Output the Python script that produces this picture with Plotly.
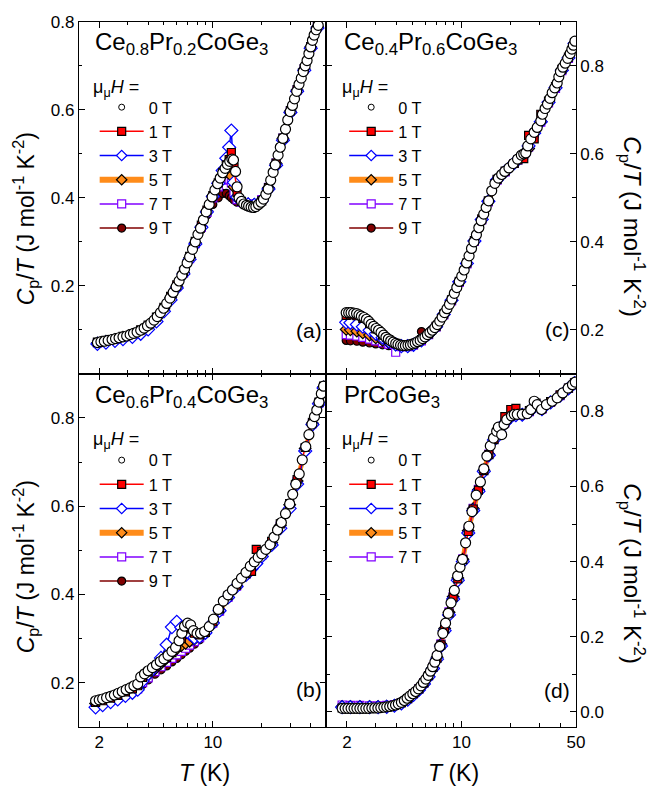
import math
import plotly.graph_objects as go

W, H = 654, 794
FONT = "Liberation Sans, Arial, sans-serif"

# ---------------- (a) Ce0.8Pr0.2CoGe3 ----------------
a_T0 = [1.95, 2.05, 2.15, 2.27, 2.4, 2.52, 2.65, 2.8, 2.95, 3.1, 3.25, 3.42, 3.6, 3.78, 3.96,
        4.15, 4.35, 4.55, 4.76, 4.98, 5.2, 5.45, 5.7, 5.95, 6.2, 6.45, 6.7, 6.95, 7.2, 7.5,
        7.8, 8.1, 8.4, 8.75, 9.1, 9.5, 9.9, 10.3, 10.7, 11.1, 11.5, 11.9, 12.3, 12.7, 13.1,
        13.4, 13.8, 14.1, 14.5, 15.0, 15.5, 16.1, 16.6, 17.2, 17.8, 18.4, 19.1, 19.8, 20.5, 21.2,
        21.9, 22.7, 23.5, 24.2, 25.2, 26.0, 27.0, 28.0, 28.9, 29.9, 30.9, 31.8, 32.8, 33.9, 35.0,
        36.0, 37.0, 38.0, 39.0, 40.0, 41.0, 42.0, 43.2, 44.5]
a_C0 = [0.071, 0.073, 0.074, 0.076, 0.078, 0.080, 0.082, 0.084, 0.086, 0.089, 0.092, 0.095, 0.099, 0.104, 0.109,
        0.115, 0.122, 0.130, 0.139, 0.149, 0.160, 0.172, 0.185, 0.198, 0.211, 0.224, 0.238, 0.252, 0.266, 0.283,
        0.300, 0.317, 0.331, 0.350, 0.368, 0.385, 0.402, 0.418, 0.432, 0.445, 0.457, 0.467, 0.476, 0.483, 0.488,
        0.486, 0.460, 0.425, 0.400, 0.392, 0.386, 0.383, 0.381, 0.379, 0.378, 0.380, 0.385, 0.390, 0.397, 0.408,
        0.420, 0.440, 0.458, 0.475, 0.497, 0.515, 0.535, 0.556, 0.577, 0.596, 0.610, 0.625, 0.642, 0.658, 0.672,
        0.687, 0.700, 0.712, 0.728, 0.743, 0.758, 0.770, 0.782, 0.792]
a_T = [1.95, 2.2, 2.5, 2.8, 3.2, 3.6, 4.0, 4.5, 5.0, 5.5, 6.0, 6.6, 7.2, 7.8, 8.5, 9.2, 10.0, 10.8,
       11.5, 12.1, 12.6, 13.0, 13.5, 14.1, 15.0, 16.5, 18.0, 20.0, 22.0, 24.5, 27.0, 30.0, 33.0, 36.5, 40.0, 44.0]
a_C1 = [0.072, 0.076, 0.080, 0.085, 0.091, 0.100, 0.111, 0.129, 0.151, 0.176, 0.202, 0.233, 0.267, 0.301, 0.338,
        0.372, 0.405, 0.434, 0.458, 0.475, 0.487, 0.503, 0.470, 0.412, 0.392, 0.383, 0.380, 0.393, 0.423, 0.479,
        0.536, 0.598, 0.646, 0.694, 0.744, 0.790]
a_C3 = [0.068, 0.071, 0.075, 0.079, 0.084, 0.091, 0.101, 0.119, 0.142, 0.168, 0.195, 0.227, 0.260, 0.295, 0.333,
        0.368, 0.403, 0.433, 0.462, 0.490, 0.515, 0.553, 0.435, 0.402, 0.392, 0.385, 0.384, 0.393, 0.420, 0.474,
        0.531, 0.594, 0.642, 0.690, 0.740, 0.786]
a_C5 = [0.070, 0.074, 0.078, 0.083, 0.089, 0.097, 0.108, 0.126, 0.148, 0.173, 0.199, 0.230, 0.264, 0.298, 0.335,
        0.370, 0.404, 0.433, 0.452, 0.460, 0.463, 0.450, 0.425, 0.400, 0.392, 0.386, 0.385, 0.395, 0.423, 0.478,
        0.535, 0.597, 0.645, 0.693, 0.743, 0.789]
a_C7 = [0.070, 0.074, 0.078, 0.083, 0.089, 0.097, 0.108, 0.125, 0.147, 0.172, 0.198, 0.229, 0.262, 0.296, 0.333,
        0.367, 0.400, 0.425, 0.440, 0.445, 0.442, 0.434, 0.412, 0.396, 0.390, 0.386, 0.386, 0.396, 0.424, 0.479,
        0.536, 0.597, 0.645, 0.693, 0.743, 0.789]
a_C9 = [0.070, 0.073, 0.077, 0.082, 0.088, 0.096, 0.107, 0.124, 0.146, 0.170, 0.196, 0.227, 0.260, 0.293, 0.328,
        0.361, 0.385, 0.400, 0.410, 0.410, 0.405, 0.400, 0.395, 0.390, 0.388, 0.386, 0.386, 0.396, 0.424, 0.479,
        0.536, 0.597, 0.645, 0.693, 0.743, 0.789]

# ---------------- (b) Ce0.6Pr0.4CoGe3 ----------------
b_T0 = [1.9, 2.0, 2.1, 2.22, 2.35, 2.48, 2.62, 2.77, 2.93, 3.1, 3.27, 3.45, 3.6, 3.8, 4.0,
        4.25, 4.5, 4.75, 5.0, 5.3, 5.6, 5.9, 6.2, 6.45, 6.7, 7.0, 7.3, 7.6, 8.0, 8.4,
        8.9, 9.5, 10.1, 10.8, 11.6, 12.4, 13.2, 14.1, 15.0, 16.0, 17.0, 18.0, 19.0, 20.0, 21.2,
        22.5, 23.8, 25.0, 26.4, 28.0, 29.7, 31.0, 32.4, 34.0, 35.5, 37.3, 39.0, 40.7, 42.2, 43.6,
        45.0, 46.5, 48.0]
b_C0 = [0.159, 0.161, 0.163, 0.166, 0.169, 0.172, 0.176, 0.180, 0.184, 0.188, 0.193, 0.197, 0.213, 0.220, 0.227,
        0.234, 0.241, 0.248, 0.254, 0.262, 0.271, 0.280, 0.295, 0.312, 0.328, 0.335, 0.331, 0.318, 0.312, 0.312,
        0.316, 0.327, 0.344, 0.366, 0.385, 0.399, 0.410, 0.425, 0.437, 0.450, 0.464, 0.474, 0.484, 0.492, 0.502,
        0.513, 0.530, 0.546, 0.563, 0.583, 0.605, 0.627, 0.650, 0.673, 0.705, 0.735, 0.762, 0.786, 0.803, 0.818,
        0.836, 0.855, 0.872]
b_T = [1.9, 2.1, 2.35, 2.6, 2.9, 3.2, 3.45, 3.7, 4.0, 4.4, 4.8, 5.2, 5.6, 6.0, 6.4, 6.8, 7.2, 7.7,
       8.3, 9.0, 10.0, 11.0, 12.4, 14.0, 16.0, 17.3, 18.5, 20.0, 23.0, 26.0, 29.7, 33.0, 37.0, 41.0, 45.0, 48.0]
b_C1 = [0.155, 0.159, 0.165, 0.171, 0.179, 0.186, 0.193, 0.212, 0.224, 0.236, 0.247, 0.257, 0.268, 0.280, 0.300,
        0.322, 0.325, 0.312, 0.308, 0.314, 0.338, 0.367, 0.397, 0.421, 0.447, 0.452, 0.502, 0.497, 0.520, 0.560,
        0.606, 0.660, 0.733, 0.790, 0.836, 0.872]
b_C3 = [0.144, 0.149, 0.156, 0.162, 0.170, 0.177, 0.184, 0.204, 0.220, 0.236, 0.256, 0.286, 0.326, 0.338, 0.325,
        0.316, 0.310, 0.302, 0.304, 0.313, 0.335, 0.363, 0.393, 0.418, 0.444, 0.458, 0.470, 0.486, 0.512, 0.550,
        0.595, 0.650, 0.725, 0.785, 0.832, 0.868]
b_C5 = [0.153, 0.157, 0.162, 0.168, 0.175, 0.182, 0.188, 0.205, 0.217, 0.231, 0.244, 0.256, 0.267, 0.277, 0.284,
        0.289, 0.294, 0.299, 0.306, 0.317, 0.337, 0.364, 0.394, 0.420, 0.447, 0.462, 0.476, 0.490, 0.517, 0.556,
        0.603, 0.657, 0.731, 0.788, 0.834, 0.870]
b_C7 = [0.151, 0.155, 0.160, 0.166, 0.173, 0.180, 0.186, 0.200, 0.211, 0.225, 0.236, 0.246, 0.255, 0.263, 0.271,
        0.278, 0.285, 0.293, 0.302, 0.314, 0.335, 0.362, 0.393, 0.419, 0.446, 0.461, 0.475, 0.489, 0.516, 0.555,
        0.602, 0.656, 0.730, 0.787, 0.834, 0.870]
b_C9 = [0.148, 0.152, 0.157, 0.163, 0.170, 0.177, 0.183, 0.196, 0.206, 0.219, 0.229, 0.238, 0.247, 0.255, 0.263,
        0.271, 0.278, 0.287, 0.297, 0.310, 0.332, 0.360, 0.391, 0.418, 0.445, 0.460, 0.474, 0.488, 0.515, 0.554,
        0.601, 0.655, 0.729, 0.786, 0.833, 0.869]

# ---------------- (c) Ce0.4Pr0.6CoGe3 ----------------
c_T0 = [1.98, 2.05, 2.12, 2.2, 2.29, 2.37, 2.45, 2.54, 2.63, 2.72, 2.81, 2.91, 3.01, 3.12, 3.23,
        3.35, 3.46, 3.58, 3.70, 3.83, 3.97, 4.1, 4.25, 4.4, 4.55, 4.72, 4.88, 5.05, 5.22, 5.4,
        5.6, 5.8, 5.99, 6.2, 6.42, 6.65, 6.88, 7.12, 7.37, 7.62, 7.89, 8.16, 8.45, 8.75, 9.05,
        9.37, 9.7, 10.04, 10.39, 10.75, 11.13, 11.52, 11.92, 12.34, 12.77, 13.2, 13.68, 14.15, 14.65, 15.3,
        16.0, 16.8, 17.6, 18.4, 19.5, 20.7, 22.0, 23.2, 24.0, 24.7, 25.4, 26.5, 27.8, 29.0, 30.5,
        31.2, 32.4, 33.5, 34.7, 35.8, 37.1, 38.4, 39.3, 40.2, 41.6, 43.0, 44.5, 46.1, 47.2, 48.2, 49.3]
c_C0 = [0.239, 0.239, 0.239, 0.238, 0.237, 0.234, 0.231, 0.228, 0.224, 0.219, 0.213, 0.208, 0.203, 0.199, 0.194,
        0.188, 0.183, 0.179, 0.175, 0.172, 0.169, 0.167, 0.165, 0.164, 0.164, 0.165, 0.166, 0.168, 0.170, 0.173,
        0.176, 0.180, 0.184, 0.189, 0.194, 0.199, 0.205, 0.212, 0.220, 0.229, 0.239, 0.248, 0.258, 0.270, 0.283,
        0.296, 0.310, 0.322, 0.336, 0.352, 0.368, 0.385, 0.400, 0.416, 0.432, 0.448, 0.463, 0.478, 0.493, 0.516,
        0.533, 0.545, 0.553, 0.560, 0.568, 0.578, 0.588, 0.597, 0.600, 0.602, 0.618, 0.634, 0.649, 0.660, 0.675,
        0.690, 0.703, 0.713, 0.726, 0.739, 0.750, 0.761, 0.775, 0.787, 0.797, 0.806, 0.817, 0.828, 0.838, 0.847, 0.856]
c_T = [1.98, 2.1, 2.3, 2.5, 2.75, 3.0, 3.3, 3.6, 3.97, 4.3, 4.7, 5.1, 5.7, 6.3, 7.0, 7.8, 8.7, 9.7,
       10.8, 12.0, 13.3, 14.6, 16.5, 18.5, 21.0, 22.1, 24.0, 25.7, 27.8, 30.5, 34.0, 37.5, 41.0, 45.0, 49.0]
c_C1 = [0.233, 0.234, 0.232, 0.226, 0.214, 0.202, 0.188, 0.178, 0.169, 0.165, 0.165, 0.168, 0.178, 0.191, 0.208,
        0.236, 0.268, 0.310, 0.352, 0.403, 0.452, 0.493, 0.542, 0.561, 0.578, 0.586, 0.589, 0.642, 0.634, 0.690,
        0.720, 0.753, 0.792, 0.820, 0.853]
c_C3 = [0.217, 0.216, 0.212, 0.207, 0.199, 0.191, 0.182, 0.174, 0.167, 0.163, 0.163, 0.166, 0.176, 0.190, 0.207,
        0.235, 0.267, 0.309, 0.351, 0.402, 0.451, 0.492, 0.541, 0.560, 0.579, 0.587, 0.598, 0.618, 0.647, 0.673,
        0.717, 0.750, 0.790, 0.818, 0.851]
c_C5 = [0.201, 0.200, 0.197, 0.193, 0.188, 0.182, 0.176, 0.171, 0.166, 0.163, 0.163, 0.166, 0.176, 0.190, 0.207,
        0.235, 0.267, 0.309, 0.351, 0.402, 0.451, 0.492, 0.541, 0.560, 0.579, 0.587, 0.600, 0.612, 0.647, 0.673,
        0.717, 0.750, 0.790, 0.818, 0.851]
c_C7 = [0.189, 0.188, 0.186, 0.183, 0.179, 0.175, 0.171, 0.167, 0.149, 0.162, 0.162, 0.165, 0.175, 0.189, 0.206,
        0.234, 0.266, 0.308, 0.350, 0.401, 0.450, 0.491, 0.540, 0.559, 0.578, 0.586, 0.598, 0.615, 0.646, 0.672,
        0.716, 0.749, 0.789, 0.817, 0.850]
c_C9 = [0.176, 0.175, 0.174, 0.172, 0.170, 0.168, 0.166, 0.164, 0.162, 0.161, 0.162, 0.165, 0.196, 0.190, 0.206,
        0.234, 0.266, 0.308, 0.350, 0.401, 0.450, 0.491, 0.540, 0.559, 0.578, 0.586, 0.598, 0.615, 0.646, 0.672,
        0.716, 0.749, 0.789, 0.817, 0.850]

# ---------------- (d) PrCoGe3 ----------------
d_T0 = [1.87, 1.95, 2.03, 2.12, 2.21, 2.3, 2.4, 2.5, 2.61, 2.72, 2.84, 2.96, 3.09, 3.22, 3.36,
        3.5, 3.65, 3.8, 3.96, 4.12, 4.3, 4.48, 4.66, 4.85, 5.05, 5.25, 5.46, 5.66, 5.86, 6.06,
        6.27, 6.47, 6.67, 6.88, 7.1, 7.37, 7.7, 8.0, 8.3, 8.64, 9.05, 9.48, 9.8, 10.15, 10.6,
        11.1, 11.6, 12.3, 13.05, 13.7, 14.3, 15.0, 15.7, 16.4, 16.8, 17.6, 18.2, 18.9, 20.2, 21.0,
        21.9, 23.5, 25.2, 26.5, 27.8, 29.0, 30.8, 33.0, 35.8, 38.4, 41.5, 44.8, 47.6, 49.5]
d_C0 = [0.009, 0.009, 0.009, 0.009, 0.009, 0.009, 0.009, 0.009, 0.009, 0.009, 0.010, 0.010, 0.010, 0.011, 0.012,
        0.013, 0.014, 0.016, 0.018, 0.021, 0.025, 0.030, 0.036, 0.042, 0.048, 0.054, 0.061, 0.069, 0.078, 0.087,
        0.097, 0.108, 0.120, 0.132, 0.150, 0.174, 0.209, 0.236, 0.262, 0.290, 0.323, 0.362, 0.385, 0.406, 0.450,
        0.494, 0.533, 0.577, 0.612, 0.647, 0.681, 0.708, 0.729, 0.747, 0.758, 0.738, 0.765, 0.778, 0.788, 0.792,
        0.792, 0.792, 0.794, 0.805, 0.827, 0.818, 0.805, 0.818, 0.827, 0.836, 0.849, 0.862, 0.871, 0.878]
d_T = [1.87, 2.1, 2.4, 2.75, 3.1, 3.5, 3.9, 4.3, 4.7, 5.1, 5.5, 5.9, 6.3, 6.7, 7.1, 7.5, 7.9, 8.4, 8.9, 9.5,
       10.2, 11.0, 11.8, 12.7, 13.7, 14.7, 15.8, 17.0, 18.4, 20.0, 21.5, 23.5, 26.0, 28.5, 31.0, 35.0, 40.0, 45.0, 49.0]
d_C1 = [0.010, 0.010, 0.010, 0.010, 0.011, 0.013, 0.017, 0.024, 0.035, 0.048, 0.061, 0.077, 0.096, 0.118, 0.143,
        0.178, 0.220, 0.263, 0.305, 0.354, 0.405, 0.480, 0.540, 0.590, 0.642, 0.685, 0.725, 0.748, 0.786, 0.805,
        0.808, 0.795, 0.802, 0.822, 0.808, 0.826, 0.844, 0.862, 0.876]
d_C3 = [0.012, 0.012, 0.012, 0.012, 0.012, 0.013, 0.016, 0.022, 0.032, 0.045, 0.058, 0.074, 0.093, 0.115, 0.140,
        0.175, 0.216, 0.258, 0.300, 0.350, 0.400, 0.476, 0.536, 0.587, 0.640, 0.683, 0.724, 0.746, 0.769, 0.785,
        0.790, 0.791, 0.799, 0.820, 0.806, 0.824, 0.842, 0.861, 0.875]
d_C5 = [0.014, 0.014, 0.014, 0.014, 0.014, 0.015, 0.017, 0.023, 0.034, 0.047, 0.060, 0.076, 0.095, 0.117, 0.145,
        0.180, 0.222, 0.265, 0.306, 0.356, 0.406, 0.482, 0.541, 0.591, 0.643, 0.686, 0.726, 0.747, 0.769, 0.786,
        0.790, 0.791, 0.799, 0.820, 0.806, 0.824, 0.842, 0.861, 0.875]
d_C7 = [0.018, 0.017, 0.017, 0.016, 0.016, 0.017, 0.019, 0.024, 0.035, 0.048, 0.061, 0.077, 0.096, 0.118, 0.146,
        0.181, 0.223, 0.266, 0.307, 0.357, 0.407, 0.483, 0.542, 0.592, 0.644, 0.686, 0.726, 0.747, 0.769, 0.786,
        0.790, 0.791, 0.799, 0.820, 0.806, 0.824, 0.842, 0.861, 0.875]

FIELDS = ["0 T", "1 T", "3 T", "5 T", "7 T", "9 T"]
COMPOUNDS = ["Ce<sub>0.8</sub>Pr<sub>0.2</sub>CoGe<sub>3</sub>",
             "Ce<sub>0.6</sub>Pr<sub>0.4</sub>CoGe<sub>3</sub>",
             "Ce<sub>0.4</sub>Pr<sub>0.6</sub>CoGe<sub>3</sub>",
             "PrCoGe<sub>3</sub>"]
PANEL_TAGS = ["(a)", "(b)", "(c)", "(d)"]
X_TICKS = [2, 10, 50]
X_MINOR = [3, 4, 5, 6, 7, 8, 9, 20, 30, 40]

# field style: line colour, line width, marker symbol, fill, edge colour, size
STYLE = {
    "0 T": dict(lc=None, lw=0, sym="circle", fill="white", edge="black", size=10),
    "1 T": dict(lc="#FF0000", lw=1.5, sym="square", fill="#FF0000", edge="black", size=8),
    "3 T": dict(lc="#0000FF", lw=1.5, sym="diamond", fill="white", edge="#0000FF", size=10),
    "5 T": dict(lc="#FF8C1A", lw=5, sym="diamond", fill="#FF8C1A", edge="black", size=9),
    "7 T": dict(lc="#8000FF", lw=1.5, sym="square", fill="white", edge="#8000FF", size=8),
    "9 T": dict(lc="#800000", lw=1.5, sym="circle", fill="#800000", edge="black", size=8),
}


def px(x):
    return x / W


def py(y):
    return 1 - y / H


panels = [
    # axis suffix, zero-field data, field grid, field series
    ("", a_T0, a_C0, a_T, {"1 T": a_C1, "3 T": a_C3, "5 T": a_C5, "7 T": a_C7, "9 T": a_C9}),
    ("2", b_T0, b_C0, b_T, {"1 T": b_C1, "3 T": b_C3, "5 T": b_C5, "7 T": b_C7, "9 T": b_C9}),
    ("3", c_T0, c_C0, c_T, {"1 T": c_C1, "3 T": c_C3, "5 T": c_C5, "7 T": c_C7, "9 T": c_C9}),
    ("4", d_T0, d_C0, d_T, {"1 T": d_C1, "3 T": d_C3, "5 T": d_C5, "7 T": d_C7}),
]

fig = go.Figure()

for idx, (sfx, T0, C0, TF, series) in enumerate(panels):
    xa, ya = "x" + sfx, "y" + sfx
    leg = "legend" + sfx
    # in-field curves underneath, zero field on top
    for name in ["9 T", "7 T", "5 T", "3 T", "1 T"]:
        if name not in series:
            continue
        s = STYLE[name]
        fig.add_trace(go.Scatter(
            x=TF, y=series[name], xaxis=xa, yaxis=ya, mode="lines+markers", showlegend=False,
            line=dict(color=s["lc"], width=s["lw"]),
            marker=dict(symbol=s["sym"], size=s["size"], color=s["fill"],
                        line=dict(color=s["edge"], width=1.2))))
    s = STYLE["0 T"]
    fig.add_trace(go.Scatter(
        x=T0, y=C0, xaxis=xa, yaxis=ya, mode="markers", showlegend=False,
        marker=dict(symbol="circle", size=s["size"], color="white", line=dict(color="black", width=1.2))))
    # legend entries
    for rank, name in enumerate(FIELDS):
        if name != "0 T" and name not in series:
            continue
        s = STYLE[name]
        if name == "0 T":
            fig.add_trace(go.Scatter(
                x=[None], y=[None], xaxis=xa, yaxis=ya, mode="markers", name=name, legend=leg,
                legendrank=rank + 1,
                marker=dict(symbol="circle", size=6, color="white", line=dict(color="black", width=1))))
        else:
            fig.add_trace(go.Scatter(
                x=[None], y=[None], xaxis=xa, yaxis=ya, mode="lines+markers", name=name, legend=leg,
                legendrank=rank + 1,
                line=dict(color=s["lc"], width=6 if name == "5 T" else 1.5),
                marker=dict(symbol=s["sym"], size=8, color=s["fill"],
                            line=dict(color=s["edge"], width=1.2))))

# ---------------- axes ----------------
XL = [px(80), px(331)]
XR = [px(331), px(584)]
YT = [py(369), py(13)]
YB = [py(726), py(369)]

axis_common = dict(showline=True, linecolor="black", linewidth=1, mirror="allticks",
                   ticks="inside", ticklen=6, tickwidth=1, tickcolor="black",
                   showgrid=False, zeroline=False,
                   tickfont=dict(family=FONT, size=17, color="black"))

xcommon = dict(axis_common, type="log", range=[math.log10(1.5), math.log10(50)],
               tickmode="array", tickvals=X_TICKS,
               minor=dict(tickmode="array", tickvals=X_MINOR, ticks="inside", ticklen=3.5,
                          tickwidth=1, tickcolor="black", showgrid=False))

layout_axes = {
    "xaxis": dict(xcommon, domain=XL, anchor="y", showticklabels=False),
    "xaxis2": dict(xcommon, domain=XL, anchor="y2", ticktext=["2", "10", ""]),
    "xaxis3": dict(xcommon, domain=XR, anchor="y3", showticklabels=False),
    "xaxis4": dict(xcommon, domain=XR, anchor="y4", ticktext=["2", "10", "50"]),
}

ycommon = dict(axis_common, tickmode="array")
layout_axes["yaxis"] = dict(ycommon, domain=YT, anchor="x", side="left", range=[0.0, 0.8],
                            tickvals=[0.2, 0.4, 0.6, 0.8], ticktext=["0.2", "0.4", "0.6", "0.8"],
                            minor=dict(tickmode="array", tickvals=[0.1, 0.3, 0.5, 0.7], ticks="inside",
                                       ticklen=3.5, tickwidth=1, tickcolor="black"))
layout_axes["yaxis2"] = dict(ycommon, domain=YB, anchor="x2", side="left", range=[0.1, 0.9],
                             tickvals=[0.2, 0.4, 0.6, 0.8], ticktext=["0.2", "0.4", "0.6", "0.8"],
                             minor=dict(tickmode="array", tickvals=[0.3, 0.5, 0.7], ticks="inside",
                                        ticklen=3.5, tickwidth=1, tickcolor="black"))
layout_axes["yaxis3"] = dict(ycommon, domain=YT, anchor="x3", side="right", range=[0.1, 0.9],
                             tickvals=[0.2, 0.4, 0.6, 0.8], ticktext=["0.2", "0.4", "0.6", "0.8"],
                             minor=dict(tickmode="array", tickvals=[0.3, 0.5, 0.7], ticks="inside",
                                        ticklen=3.5, tickwidth=1, tickcolor="black"))
layout_axes["yaxis4"] = dict(ycommon, domain=YB, anchor="x4", side="right", range=[-0.04, 0.9],
                             tickvals=[0.0, 0.2, 0.4, 0.6, 0.8],
                             ticktext=["0.0", "0.2", "0.4", "0.6", "0.8"],
                             minor=dict(tickmode="array", tickvals=[0.1, 0.3, 0.5, 0.7], ticks="inside",
                                        ticklen=3.5, tickwidth=1, tickcolor="black"))

# ---------------- legends ----------------
def legend_at(x, y):
    return dict(x=px(x), y=py(y), xanchor="left", yanchor="top", bgcolor="rgba(0,0,0,0)",
                borderwidth=0, itemwidth=44, tracegroupgap=0, traceorder="normal",
                font=dict(family=FONT, size=16.3, color="black"),
                itemclick=False, itemdoubleclick=False)


legends = {
    "legend": legend_at(96, 82),
    "legend2": legend_at(96, 439),
    "legend3": legend_at(349, 82),
    "legend4": legend_at(349, 439),
}

# ---------------- text ----------------
ann = []
YTITLE = "<i>C</i><sub>p</sub>/<i>T</i> (J mol<sup>-1</sup> K<sup>-2</sup>)"
for (x, y, ang, fs) in [(25, 212, -90, 23), (25, 564, -90, 23), (641, 220, 90, 24), (641, 571, 90, 24)]:
    ann.append(dict(text=YTITLE, x=px(x), y=py(y), xref="paper", yref="paper", showarrow=False,
                    textangle=ang, xanchor="center", yanchor="middle",
                    font=dict(family=FONT, size=fs, color="black")))
for x in (207, 460):
    ann.append(dict(text="<i>T</i> (K)", x=px(x), y=py(773), xref="paper", yref="paper",
                    showarrow=False, xanchor="center", yanchor="middle",
                    font=dict(family=FONT, size=23, color="black")))
for (text, x, y) in zip(COMPOUNDS, [94, 94, 347, 347], [35, 392, 35, 392]):
    ann.append(dict(text=text, x=px(x), y=py(y), xref="paper", yref="paper", showarrow=False,
                    xanchor="left", yanchor="middle",
                    font=dict(family=FONT, size=24, color="black")))
for (x, y) in [(92, 80), (92, 436), (345, 80), (345, 436)]:
    ann.append(dict(text="\u03bc<sub>\u03bc</sub><i>H</i> =", x=px(x), y=py(y), xref="paper",
                    yref="paper", showarrow=False, xanchor="left", yanchor="middle",
                    font=dict(family=FONT, size=18, color="black")))
for (text, x, y) in zip(PANEL_TAGS, [313, 313, 565, 565], [325, 688, 324, 689]):
    ann.append(dict(text=text, x=px(x), y=py(y), xref="paper", yref="paper", showarrow=False,
                    xanchor="center", yanchor="middle",
                    font=dict(family=FONT, size=21, color="black")))

fig.update_layout(
    width=W, height=H, margin=dict(l=0, r=0, t=0, b=0),
    paper_bgcolor="white", plot_bgcolor="white",
    font=dict(family=FONT, color="black"),
    annotations=ann,
    **layout_axes, **legends,
)

fig.write_html("out.html")
